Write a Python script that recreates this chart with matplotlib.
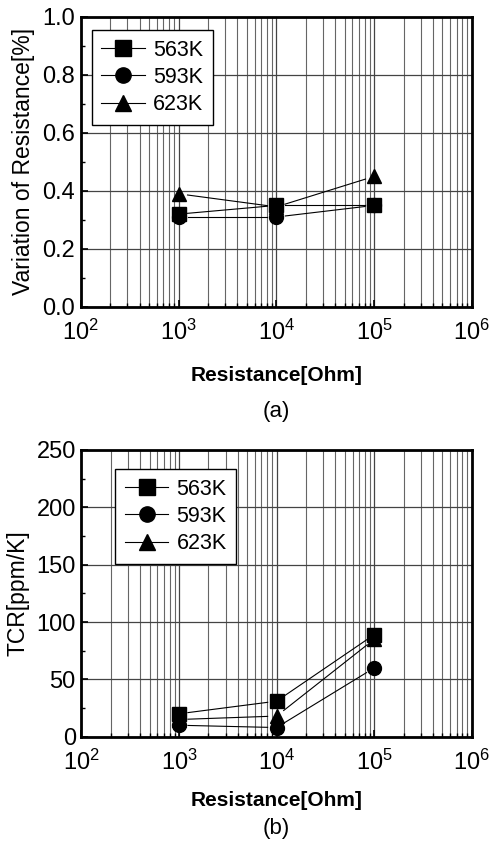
import matplotlib
matplotlib.use("Agg")
import numpy as np
import matplotlib.pyplot as plt
from matplotlib.ticker import LogLocator, MultipleLocator, FormatStrFormatter

plt.rcParams['font.family'] = ['Liberation Sans', 'DejaVu Sans']
plt.rcParams['mathtext.fontset'] = 'custom'
plt.rcParams['mathtext.rm'] = 'Liberation Sans'

# data
resistance = [1e3, 1e4, 1e5]
temps = ['563K', '593K', '623K']
markers = ['s', 'o', '^']
variation = {
    '563K': [0.32, 0.35, 0.35],
    '593K': [0.31, 0.31, 0.35],
    '623K': [0.39, 0.345, 0.45],
}
tcr = {
    '563K': [20, 31, 89],
    '593K': [10, 8, 60],
    '623K': [15, 18, 85],
}


def gapped_line(ax, x, y, gap=9):
    # Origin-style connecting lines that stop short of the markers
    pts = ax.transData.transform(np.column_stack([x, y]))
    inv = ax.transData.inverted()
    for p0, p1 in zip(pts[:-1], pts[1:]):
        d = p1 - p0
        n = np.hypot(*d)
        if n <= 2 * gap:
            continue
        a = p0 + d / n * gap
        b = p1 - d / n * gap
        seg = inv.transform([a, b])
        ax.plot(seg[:, 0], seg[:, 1], color='black', lw=0.8, zorder=3)


def setup(ax, ymax, ystep, yminor, ylabel, letter, label_y, letter_y):
    ax.set_xscale('log')
    ax.set_xlim(1e2, 1e6)
    ax.set_ylim(0, ymax)
    ax.yaxis.set_major_locator(MultipleLocator(ystep))
    ax.yaxis.set_minor_locator(MultipleLocator(yminor))
    ax.xaxis.set_major_locator(LogLocator(base=10, numticks=10))
    ax.xaxis.set_minor_locator(LogLocator(base=10, subs=np.arange(2, 10), numticks=10))
    ax.grid(True, which='major', axis='both', color='#444444', lw=0.9)
    ax.grid(True, which='minor', axis='x', color='#666666', lw=0.8)
    ax.tick_params(which='both', direction='in', top=False, right=False, labelsize=17)
    ax.tick_params(axis='x', which='major', pad=9)
    ax.tick_params(axis='y', which='major', pad=4)
    ax.tick_params(which='major', length=5, width=1.2)
    ax.tick_params(which='minor', length=3, width=1)
    for s in ax.spines.values():
        s.set_linewidth(2)
    ax.set_ylabel(ylabel, fontsize=16.5, labelpad=5)
    ax.set_xlabel('Resistance[Ohm]', fontsize=15, fontweight='bold')
    ax.xaxis.set_label_coords(0.5, label_y)
    ax.text(0.5, letter_y, letter, transform=ax.transAxes, ha='center', va='center', fontsize=16)


fig = plt.figure(figsize=(4.9, 8.41), dpi=100)
ax1 = fig.add_axes([0.165, 0.635, 0.798, 0.345])
ax2 = fig.add_axes([0.166, 0.124, 0.797, 0.341])

setup(ax1, 1.0, 0.2, 0.1, 'Variation of Resistance[%]', '(a)', -0.205, -0.36)
ax1.yaxis.set_major_formatter(FormatStrFormatter('%.1f'))
setup(ax2, 250, 50, 25, 'TCR[ppm/K]', '(b)', -0.19, -0.32)

for ax, data, anchor in [(ax1, variation, (0.028, 0.955)), (ax2, tcr, (0.087, 0.934))]:
    for t, m in zip(temps, markers):
        gapped_line(ax, resistance, data[t])
        ax.plot(resistance, data[t], linestyle='none', marker=m, color='black', ms=10, zorder=4)
    handles = [ax.plot([], [], color='black', lw=0.8, marker=m, ms=11)[0] for m in markers]
    leg = ax.legend(handles, temps, loc='upper left', bbox_to_anchor=anchor, fontsize=15.5,
                    fancybox=False, edgecolor='black', framealpha=1, handlelength=2.0,
                    handletextpad=0.4, borderaxespad=0, labelspacing=0.3, borderpad=0.45)
    leg.get_frame().set_linewidth(1)

fig.savefig('out.png', dpi=100)
